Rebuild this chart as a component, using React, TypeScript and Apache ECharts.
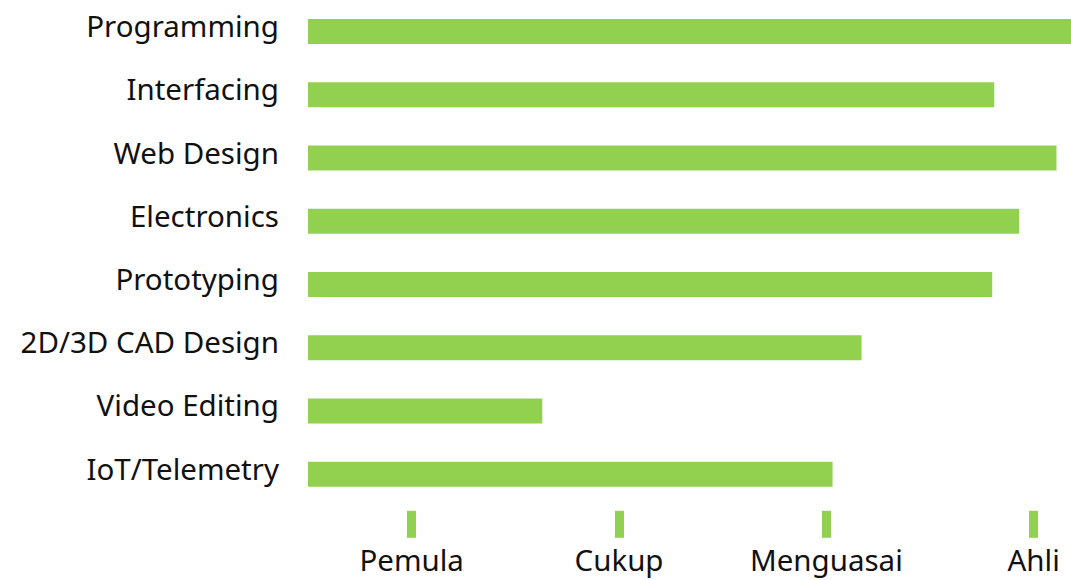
import React, { useEffect, useRef } from "react";
import * as echarts from "echarts";

const categories = [
  "Programming",
  "Interfacing",
  "Web Design",
  "Electronics",
  "Prototyping",
  "2D/3D CAD Design",
  "Video Editing",
  "IoT/Telemetry",
];
const skillValues = [4.2, 3.81, 4.11, 3.93, 3.8, 3.17, 1.63, 3.03];
const levelTicks = [1, 2, 3, 4];
const levelLabels = ["Pemula", "Cukup", "Menguasai", "Ahli"];

const GREEN = "#92d050";
const FONT = "Noto Sans";

export default function App() {
  const ref = useRef<HTMLDivElement>(null);
  useEffect(() => {
    document.body.style.margin = "0";
    const chart = echarts.init(ref.current!, null, { renderer: "svg" });
    chart.setOption({
      animation: false,
      grid: { left: 308, top: -1.2, right: 0, height: 507, containLabel: false },
      xAxis: {
        type: "value",
        min: 0.5,
        max: 4.18,
        offset: 5,
        axisLine: { show: false },
        splitLine: { show: false },
        axisTick: {
          show: true,
          customValues: levelTicks,
          length: 27,
          lineStyle: { color: GREEN, width: 9 },
        },
        axisLabel: {
          customValues: levelTicks,
          margin: 34,
          color: "#111",
          fontFamily: FONT,
          fontSize: 29.5,
          formatter: (v: number) => levelLabels[levelTicks.indexOf(v)] ?? "",
        },
      },
      yAxis: {
        type: "category",
        data: categories,
        inverse: true,
        axisLine: { show: false },
        axisTick: { show: false },
        splitLine: { show: false },
        axisLabel: {
          margin: 29,
          color: "#111",
          fontFamily: FONT,
          fontSize: 29.5,
          verticalAlign: "bottom",
          lineHeight: 12,
        },
      },
      series: [
        {
          type: "bar",
          data: skillValues,
          barWidth: 25,
          clip: true,
          itemStyle: { color: GREEN },
        },
      ],
    });
    return () => chart.dispose();
  }, []);
  return <div ref={ref} style={{ width: 1071, height: 580 }} />;
}
